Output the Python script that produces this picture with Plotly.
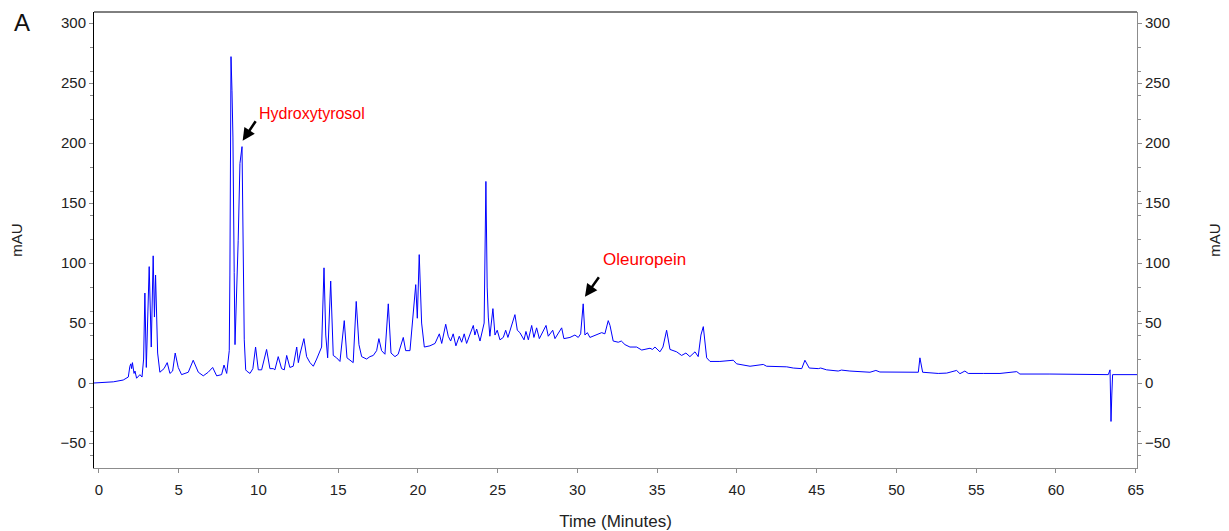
import plotly.graph_objects as go

# HPLC chromatogram trace: retention time (min) and detector response (mAU)
time_min = [
    -0.36, 0.90, 1.52, 1.84, 1.94, 2.00, 2.05, 2.10, 2.20, 2.26, 2.36, 2.57, 2.70, 2.80,
    2.88, 2.97, 3.07, 3.15, 3.28, 3.40, 3.48, 3.55, 3.68, 3.76, 3.82, 4.08, 4.28, 4.45,
    4.62, 4.78, 4.97, 5.18, 5.40, 5.60, 5.91, 6.23, 6.54, 6.85, 7.13, 7.38, 7.69, 7.84,
    8.01, 8.10, 8.17, 8.21, 8.23, 8.28, 8.34, 8.40, 8.48, 8.53, 8.73, 8.84, 8.97, 9.05,
    9.11, 9.20, 9.26, 9.47, 9.65, 9.82, 9.99, 10.20, 10.51, 10.72, 10.93, 11.03, 11.24,
    11.45, 11.62, 11.77, 11.97, 12.18, 12.40, 12.50, 12.62, 12.85, 13.02, 13.23, 13.44,
    13.65, 13.86, 13.96, 14.11, 14.22, 14.34, 14.53, 14.69, 14.90, 15.11, 15.38, 15.55,
    15.74, 15.94, 16.13, 16.30, 16.47, 16.78, 16.99, 17.20, 17.41, 17.55, 17.72, 17.93,
    18.14, 18.31, 18.56, 18.76, 19.08, 19.23, 19.50, 19.86, 19.96, 20.08, 20.23, 20.40,
    20.75, 21.07, 21.34, 21.49, 21.74, 21.90, 22.05, 22.21, 22.38, 22.59, 22.74, 22.90,
    23.05, 23.47, 23.57, 23.68, 23.89, 24.06, 24.15, 24.26, 24.34, 24.41, 24.51, 24.70,
    24.83, 24.97, 25.14, 25.35, 25.50, 25.64, 26.08, 26.23, 26.39, 26.65, 26.77, 26.92,
    27.13, 27.27, 27.44, 27.61, 28.03, 28.17, 28.45, 28.59, 29.01, 29.15, 29.53, 29.84,
    30.05, 30.20, 30.36, 30.47, 30.62, 30.78, 31.20, 31.52, 31.72, 31.93, 32.04, 32.24,
    32.56, 32.75, 32.98, 33.29, 33.71, 34.03, 34.55, 34.70, 34.86, 35.17, 35.36, 35.59,
    35.80, 36.22, 36.53, 36.80, 37.05, 37.37, 37.57, 37.74, 37.89, 38.00, 38.10, 38.31,
    38.93, 39.77, 39.98, 40.82, 41.44, 41.65, 41.86, 43.12, 43.53, 44.06, 44.26, 44.53,
    45.10, 45.25, 45.62, 46.35, 46.55, 47.08, 48.34, 48.71, 48.96, 49.80, 51.37, 51.47,
    51.64, 52.62, 53.15, 53.77, 53.98, 54.29, 54.50, 55.44, 56.49, 57.54, 57.74, 59.62,
    61.71, 63.28, 63.39, 63.45, 63.50, 63.55, 65.08,
]
signal_mau = [
    0.0, 1.0, 2.5, 5.0, 14, 16, 12, 17, 8, 10, 4, 7, 5, 20,
    75, 13, 60, 97, 30, 106, 55, 90, 25, 13, 9, 12, 17, 8,
    10, 25, 13, 7, 8, 9, 19, 9, 6, 9, 13, 6, 7, 15,
    8, 20, 27, 90, 197, 272, 244, 205, 92, 32, 119, 183, 197, 119,
    36, 11, 10, 8, 12, 30, 11, 11, 28, 12, 12, 11, 22,
    12, 11, 23, 13, 14, 30, 17, 25, 37, 22, 17, 14,
    20, 26, 30, 96, 40, 21, 85, 23, 21, 18, 52, 21,
    19, 17, 68, 32, 22, 20, 22, 23, 27, 37, 27, 24,
    66, 25, 22, 24, 38, 27, 27, 82, 54, 107, 50, 30,
    31, 33, 41, 33, 49, 39, 35, 41, 31, 39, 34, 41,
    33, 48, 40, 45, 35, 47, 50, 168, 80, 55, 39, 62,
    40, 44, 36, 38, 44, 38, 57, 44, 42, 36, 43, 36,
    48, 38, 46, 37, 48, 39, 44, 37, 46, 37, 38, 40,
    38, 41, 66, 40, 42, 38, 40, 42, 41, 52, 48, 35,
    34, 35, 32, 30, 30, 27.5, 29, 28, 30, 26, 30, 44,
    28, 26, 23, 25, 22, 26, 22, 40, 47, 35, 21, 18,
    18, 19, 16, 14, 15, 15.5, 14, 13.5, 12.5, 12, 19, 12.5,
    12, 12.5, 11, 10, 10.8, 10, 9, 10.5, 9.2, 9.2, 9, 21,
    9, 8, 8.3, 10.5, 7.8, 10, 8, 8, 8, 9.5, 7.5, 7.5,
    7.5, 7, 11, -32, -10, 7, 7,
]

y_range = [-70.8, 309.2]
y_ticks = [-50, 0, 50, 100, 150, 200, 250, 300]
x_ticks = list(range(0, 70, 5))

FONT = "Liberation Sans, Arial, sans-serif"
TICK_COLOR = "#222222"
AXIS_GRAY = "#8c8c8c"

fig = go.Figure()
fig.add_trace(go.Scatter(
    x=time_min, y=signal_mau, mode="lines",
    line=dict(color="#0000ff", width=1),
    showlegend=False, hoverinfo="x+y",
))
# anchor trace so the right-hand mAU axis is drawn
fig.add_trace(go.Scatter(
    x=[time_min[0]], y=[signal_mau[0]], mode="markers",
    marker=dict(opacity=0), yaxis="y2", showlegend=False, hoverinfo="skip",
))


def y_axis(side, line_color, standoff):
    return dict(
        range=y_range, tickvals=y_ticks, ticks="outside", ticklen=4,
        tickcolor=AXIS_GRAY, tickfont=dict(family=FONT, size=15, color=TICK_COLOR),
        showgrid=False, zeroline=False, showline=True, automargin=False,
        linecolor=line_color, linewidth=1, side=side,
        minor=dict(dtick=20, tick0=0, ticks="outside", ticklen=3, tickcolor=AXIS_GRAY),
        title=dict(text="mAU", font=dict(family=FONT, size=15, color=TICK_COLOR),
                   standoff=standoff),
    )


fig.update_layout(
    width=1229, height=531,
    margin=dict(l=94, r=92, t=12, b=63),
    paper_bgcolor="white", plot_bgcolor="white",
    xaxis=dict(
        range=[-0.31, 65.08], tickvals=x_ticks, ticks="outside", ticklen=4,
        tickcolor=AXIS_GRAY, showgrid=False, zeroline=False, automargin=False,
        showline=True, linecolor=AXIS_GRAY, linewidth=1,
        tickfont=dict(family=FONT, size=15, color=TICK_COLOR),
        ticklabelstandoff=4,
        title=dict(text="Time (Minutes)", font=dict(family=FONT, size=17, color=TICK_COLOR),
                   standoff=18),
    ),
    yaxis=y_axis("left", "#000000", 34),
    yaxis2=dict(**y_axis("right", AXIS_GRAY, 40), overlaying="y", anchor="x"),
    shapes=[dict(type="line", xref="paper", yref="paper", x0=0, x1=1, y0=1, y1=1,
                 line=dict(color="#000000", width=1))],
    annotations=[
        dict(text="A", xref="paper", yref="paper", x=-0.069, y=0.978,
             xanchor="center", yanchor="middle", showarrow=False,
             font=dict(family=FONT, size=24, color="#111111")),
        dict(text="Hydroxytyrosol", x=9.90, y=225, xanchor="left", yanchor="middle",
             showarrow=False, font=dict(family=FONT, size=16, color="#ff0000")),
        dict(text="", x=9.01, y=201.9, ax=14, ay=-21, showarrow=True,
             arrowhead=2, arrowsize=1, arrowwidth=2.5, arrowcolor="#000000"),
        dict(text="Oleuropein", x=31.5, y=103, xanchor="left", yanchor="middle",
             showarrow=False, font=dict(family=FONT, size=17, color="#ff0000")),
        dict(text="", x=30.47, y=71.9, ax=15, ay=-21, showarrow=True,
             arrowhead=2, arrowsize=1, arrowwidth=2.5, arrowcolor="#000000"),
    ],
)

fig.write_html("out.html")
